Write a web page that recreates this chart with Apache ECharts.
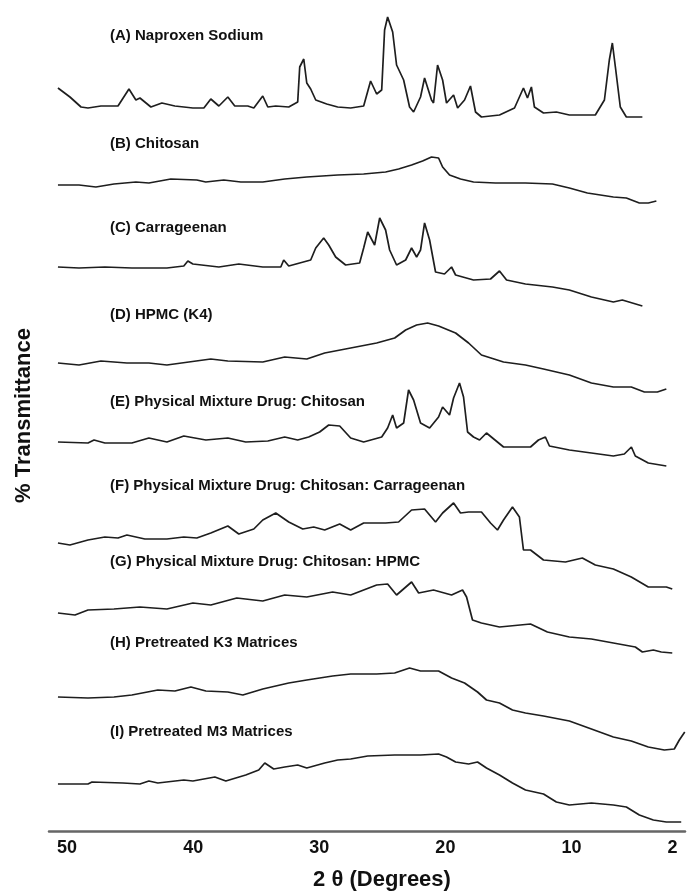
<!DOCTYPE html>
<html>
<head>
<meta charset="utf-8">
<script src="https://cdn.jsdelivr.net/npm/echarts@6/dist/echarts.min.js"></script>
<style>
html,body{margin:0;padding:0;background:#fff;}
#chart{width:688px;height:892px;}
</style>
</head>
<body>
<div id="chart"></div>
<script>
// ---- Data (2θ in degrees, intensity in arbitrary units relative to each pattern's baseline) ----
const traceNames = [
  "(A) Naproxen Sodium",
  "(B) Chitosan",
  "(C) Carrageenan",
  "(D) HPMC (K4)",
  "(E) Physical Mixture Drug: Chitosan",
  "(F) Physical Mixture Drug: Chitosan: Carrageenan",
  "(G) Physical Mixture Drug: Chitosan: HPMC",
  "(H) Pretreated K3 Matrices",
  "(I) Pretreated M3 Matrices"
];
const xTickLabels = [50, 40, 30, 20, 10, 2];

const thetaA = [50.72,49.77,48.89,48.34,47.31,45.96,45.09,44.54,44.22,43.35,42.48,41.45,40.02,39.15,38.60,37.96,37.25,36.70,35.67,35.19,34.48,34.08,33.45,32.42,31.71,31.55,31.23,30.99,30.68,30.28,29.41,28.54,27.51,26.48,25.93,25.45,25.05,24.82,24.58,24.18,23.87,23.31,22.84,22.52,21.97,21.65,21.10,20.94,20.62,20.22,19.91,19.35,19.03,18.48,18.01,17.61,17.14,15.71,14.52,13.81,13.49,13.18,12.94,12.22,11.20,10.17,8.11,7.39,7.00,6.76,6.52,6.13,5.65,4.38];
const intA   = [20,11,1,0,2,2,19,8,10,1,5,2,0,0,9,2,11,2,2,0,12,1,2,1,6,41,49,25,19,8,4,1,0,2,27,14,18,78,91,76,43,28,1,-4,11,30,8,5,43,28,5,13,0,8,22,-4,-9,-7,0,20,10,21,1,-5,-4,-7,-7,8,48,65,41,1,-9,-9];

const thetaB = [50.72,49.05,47.71,46.28,44.54,43.51,41.77,39.71,39.00,37.57,36.22,34.48,32.74,30.99,28.54,26.48,24.74,23.71,22.68,21.81,21.10,20.54,20.22,19.67,18.80,17.77,16.03,13.65,11.51,10.17,8.74,6.68,5.65,4.62,3.91,3.27];
const intB   = [0,0,-2,1,3,2,6,5,3,5,3,3,6,8,10,11,13,16,20,24,28,27,18,10,6,3,2,2,1,-3,-8,-12,-13,-18,-18,-16];

const thetaC = [50.72,49.05,47.00,44.86,42.08,40.74,40.42,40.02,37.96,36.38,34.48,33.05,32.82,32.42,31.55,30.68,30.28,29.65,29.25,28.70,27.91,26.80,26.48,26.16,25.61,25.21,24.74,24.42,23.87,23.15,22.68,22.28,21.97,21.65,21.25,20.78,20.07,19.51,19.19,17.77,16.42,15.71,15.15,13.65,11.51,10.17,8.42,6.68,5.97,4.38];
const intC   = [1,0,1,0,0,2,7,4,1,4,1,1,8,2,5,8,20,30,23,11,3,5,20,36,23,50,38,18,3,8,20,11,18,45,28,-4,-6,1,-7,-12,-11,-3,-12,-16,-19,-22,-29,-34,-32,-38];

const thetaD = [50.72,49.05,47.31,45.25,43.51,42.08,40.34,38.60,37.25,34.48,32.74,30.99,29.57,27.51,25.45,24.02,23.15,22.28,21.41,20.54,19.19,18.16,17.14,15.39,13.65,12.22,10.17,8.42,6.68,5.26,4.22,3.19,2.48];
const intD   = [0,-2,2,0,0,-2,1,4,2,1,6,4,10,15,20,25,33,38,40,37,30,20,8,1,-2,-6,-12,-20,-24,-24,-29,-29,-26];

const thetaE = [50.72,48.34,47.86,47.00,44.86,43.51,42.08,40.74,38.99,37.25,35.83,34.08,32.74,31.71,30.84,29.97,29.25,28.38,27.51,26.48,25.05,24.58,24.18,23.87,23.31,22.92,22.52,21.97,21.25,20.54,20.22,19.67,19.35,18.88,18.56,18.24,17.77,17.29,16.74,16.26,15.39,13.25,12.62,12.07,11.75,10.17,8.42,6.68,5.81,5.25,4.94,3.91,2.48];
const intE   = [0,-1,2,-1,-1,4,0,6,2,4,0,1,5,2,5,10,17,16,4,0,5,14,27,14,19,52,42,19,14,25,35,27,44,59,45,10,5,2,9,4,-5,-5,2,5,-4,-8,-11,-14,-12,-5,-14,-21,-24];

const thetaF = [50.72,49.77,48.34,47.00,45.96,45.25,43.83,42.08,40.74,39.71,38.60,37.25,36.38,35.19,34.48,33.45,32.42,31.31,30.44,29.57,28.38,27.51,26.48,24.74,23.71,22.68,21.65,20.78,20.22,19.35,18.80,18.16,17.14,16.42,15.87,15.39,14.68,14.13,13.81,13.25,12.22,10.48,9.14,8.11,6.68,5.26,3.91,2.48,2.01];
const intF   = [0,-2,3,6,5,8,4,4,6,5,10,17,9,14,23,30,21,14,16,13,19,13,20,20,21,33,34,21,30,40,30,31,31,20,13,23,36,26,-7,-7,-17,-19,-15,-22,-26,-34,-44,-44,-46];

const thetaG = [50.72,49.37,48.34,46.28,44.22,42.08,40.02,38.60,36.54,34.48,32.74,30.99,28.94,27.51,25.45,24.58,23.87,22.68,22.12,20.94,19.51,18.64,18.32,17.85,17.14,15.71,13.25,11.91,10.17,8.42,6.68,4.94,4.38,3.51,2.88,2.01];
const intG   = [0,-2,3,4,6,4,10,8,15,12,18,16,21,18,28,29,18,31,20,23,18,23,16,-7,-10,-14,-11,-19,-24,-26,-30,-34,-39,-37,-39,-40];

const thetaH = [50.72,48.34,46.28,44.86,42.80,41.45,40.18,38.99,37.25,36.06,34.48,32.42,30.99,28.94,27.51,25.45,24.02,22.84,21.97,20.54,19.51,18.48,17.45,16.74,15.71,14.68,13.65,12.22,10.17,8.42,6.68,5.26,3.91,2.64,1.85,1.45,1.02];
const intH   = [0,-1,0,2,7,6,10,6,5,2,8,14,17,21,23,23,24,29,26,26,19,14,5,-3,-6,-13,-16,-19,-24,-32,-40,-44,-50,-53,-52,-43,-35];

const thetaI = [50.72,48.34,48.02,45.57,44.22,43.51,42.80,40.74,40.02,38.28,37.41,35.83,34.80,34.32,33.61,32.74,31.71,30.99,29.57,28.54,27.51,26.16,24.02,21.97,20.54,19.91,19.19,18.16,17.45,16.74,15.71,14.68,13.65,12.22,11.20,10.17,8.42,6.68,5.65,4.62,3.51,2.48,1.30];
const intI   = [0,0,2,1,0,3,1,4,3,7,3,9,14,21,15,17,19,16,21,24,25,28,29,29,30,27,22,20,22,16,9,1,-6,-10,-18,-21,-19,-21,-23,-31,-36,-38,-38];

// ---- Layout: vertical offset of each pattern in the stack (chart units) ----
const stackOffsets = [723, 646, 563, 468, 389, 288, 218, 134, 47];
const labelTops = [28, 136, 220, 307, 394, 478, 554, 635, 724];

const thetas = [thetaA, thetaB, thetaC, thetaD, thetaE, thetaF, thetaG, thetaH, thetaI];
const ints = [intA, intB, intC, intD, intE, intF, intG, intH, intI];

const FONT = "'Liberation Sans', Arial, Helvetica, sans-serif";

const series = thetas.map((th, k) => ({
  name: traceNames[k],
  type: 'line',
  showSymbol: false,
  symbol: 'none',
  silent: true,
  animation: false,
  lineStyle: { color: '#1e1e1e', width: 1.7 },
  data: th.map((t, i) => [t, stackOffsets[k] + ints[k][i]])
}));

const titles = traceNames.map((n, k) => ({
  text: n,
  left: 110,
  top: labelTops[k],
  padding: 0,
  textStyle: { fontFamily: FONT, fontWeight: 'bold', fontSize: 15, color: '#111' }
}));

const chart = echarts.init(document.getElementById('chart'), null, { renderer: 'canvas' });
chart.setOption({
  animation: false,
  backgroundColor: '#ffffff',
  title: titles,
  grid: { left: 49, right: 3, top: 0, bottom: 61, containLabel: false, outerBoundsMode: 'none' },
  xAxis: {
    type: 'value',
    inverse: true,
    min: 1.0,
    max: 51.43,
    name: '2 \u03B8 (Degrees)',
    nameLocation: 'middle',
    nameGap: 38,
    nameTextStyle: { fontFamily: FONT, fontWeight: 'bold', fontSize: 22, color: '#111', padding: [0, 0, 0, 30] },
    axisLine: { show: true, lineStyle: { color: '#666', width: 2.5 } },
    axisTick: { show: false },
    splitLine: { show: false },
    axisLabel: {
      customValues: xTickLabels,
      fontFamily: FONT, fontWeight: 'bold', fontSize: 18, color: '#111', margin: 8
    }
  },
  yAxis: {
    type: 'value',
    min: 0,
    max: 831,
    name: '% Transmittance',
    nameLocation: 'middle',
    nameGap: 14,
    nameRotate: 90,
    nameTextStyle: { fontFamily: FONT, fontWeight: 'bold', fontSize: 22, color: '#111' },
    axisLine: { show: false },
    axisTick: { show: false },
    axisLabel: { show: false },
    splitLine: { show: false }
  },
  series: series
});
</script>
</body>
</html>
